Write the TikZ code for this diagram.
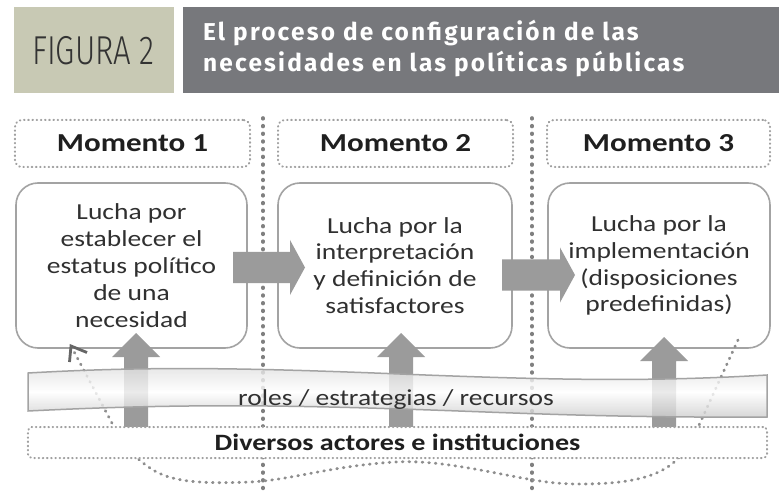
\documentclass[tikz,border=0pt]{standalone}
\usepackage{fontspec}
\setmainfont{Carlito}[FakeStretch=1.2]
\newfontfamily\titlefont{Fira Sans}[LetterSpace=9]
\newfontfamily\figfont{Fira Sans Light}[FakeStretch=0.77]
\usetikzlibrary{arrows.meta}
\definecolor{hdrgreen}{HTML}{C8C9B4}
\definecolor{hdrgray}{HTML}{77787C}
\definecolor{boxline}{HTML}{A3A3A3}
\definecolor{arrowgray}{HTML}{9B9B9B}
\definecolor{dotgray}{HTML}{808080}
\definecolor{lightdot}{HTML}{A0A0A0}
\definecolor{loopgray}{HTML}{8E8E8E}
\definecolor{txt}{HTML}{303030}
\definecolor{figtxt}{HTML}{333333}
\definecolor{ribtop}{HTML}{E0E0E0}
\definecolor{ribbot}{HTML}{CCCCCC}
\newcommand\blkup[3]{% x, tip y, bottom y
  \fill[arrowgray] (#1-12,#3) -- (#1-12,#2+24) -- (#1-24,#2+24) -- (#1,#2) -- (#1+24,#2+24) -- (#1+12,#2+24) -- (#1+12,#3) -- cycle;}
\newcommand\blkright[4]{% x start, x head, x tip, y centre
  \fill[arrowgray] (#1,#4-15.5) -- (#2,#4-15.5) -- (#2,#4-27.5) -- (#3,#4) -- (#2,#4+27.5) -- (#2,#4+15.5) -- (#1,#4+15.5) -- cycle;}
\tikzset{
  momento/.style={draw=lightdot, line width=2bp, dash pattern=on 0.6bp off 3.6bp, line cap=round,
    rounded corners=7bp, minimum height=47bp, inner sep=0pt,
    font=\bfseries\fontsize{26}{30}\selectfont, text=black!88},
  lucha/.style={draw=boxline, line width=1.6bp, fill=white, rounded corners=22bp,
    minimum height=165bp, align=center, inner sep=0pt,
    font=\fontsize{23}{27}\selectfont, text=txt},
  sepline/.style={draw=dotgray, line width=3.6bp, dash pattern=on 0.8bp off 6.9bp, line cap=round},
  loopdot/.style={draw=loopgray, line width=2.8bp, dash pattern=on 0.8bp off 5.8bp, line cap=round},
  tipchev/.style={solid, draw=black!60, line width=2.8bp, line join=miter, line cap=butt},
  actores/.style={draw=lightdot, fill=white, line width=2bp, dash pattern=on 0.6bp off 3.6bp,
    line cap=round, rounded corners=4bp, minimum width=739bp, minimum height=31bp, inner sep=0pt,
    font=\bfseries\fontsize{23.5}{28}\selectfont, text=black!88},
}
\begin{document}
\begin{tikzpicture}[x=1bp,y=-1bp]
\useasboundingbox[fill=white] (0,0) rectangle (779,493);
% header
\fill[hdrgreen] (14,7) rectangle (174,93);
\fill[hdrgray] (183,7) rectangle (779,93);
\node[anchor=base, inner sep=0pt, text=figtxt, font=\figfont\fontsize{40.5}{42}\selectfont] (fig) at (93.5,65) {FIGURA 2};
\node[anchor=base west, inner sep=0pt, align=left, text=white,
  font=\titlefont\bfseries\fontsize{24.5}{32}\selectfont] (title) at (203,72)
  {El proceso de configuración de las\\necesidades en las políticas públicas};
% separators
\coordinate (s1t) at (263,118); \coordinate (s1b) at (263,490);
\coordinate (s2t) at (532,118); \coordinate (s2b) at (532,490);
\draw[sepline] (s1t) -- (s1b);
\draw[sepline] (s2t) -- (s2b);
% moment headers
\node[momento, minimum width=235bp] (m1) at (132.5,143.5) {Momento 1};
\node[momento, minimum width=235bp] (m2) at (395.5,143.5) {Momento 2};
\node[momento, minimum width=223bp] (m3) at (658.5,143.5) {Momento 3};
% boxes
\node[lucha, minimum width=231bp] (a) at (131.5,265.5) {Lucha por\\establecer el\\estatus político\\de una\\necesidad};
\node[lucha, minimum width=234bp] (b) at (395,265.5) {Lucha por la\\interpretación\\y definición de\\satisfactores};
\node[lucha, minimum width=222bp] (c) at (659,265.5) {Lucha por la\\implementación\\(disposiciones\\predefinidas)};
% right arrows
\blkright{233}{290}{305}{267.5}
\blkright{502}{560}{575}{275}
% feedback loop
\coordinate (l0) at (738,340);
\coordinate (l1) at (700,423);
\coordinate (l2) at (113,425);
\coordinate (l3) at (71,346);
\coordinate (c1) at (87,352.5);
\coordinate (c2) at (69.5,362);
\draw[loopdot]
  (l0) -- (l1) .. controls (684,458) and (670,478) .. (610,483)
  .. controls (565,486) and (545,482) .. (522,478)
  .. controls (470,468) and (432,460) .. (395,462)
  .. controls (330,466) and (292,480) .. (250,482)
  .. controls (200,484) and (170,482) .. (150,468)
  .. controls (132,456) and (120,440) .. (l2) -- (l3);
\draw[tipchev] (c1) -- (l3) -- (c2);
% up arrows
\blkup{136}{333}{427}
\blkup{401}{333}{427}
\blkup{664}{337}{427}
% ribbon
\path[draw=boxline, line width=1.5bp, fill opacity=0.8, top color=ribtop, bottom color=ribbot, middle color=white]
  (28,373) .. controls (150,366) and (250,368) .. (400,374)
  .. controls (550,380) and (650,382) .. (767,375) -- (767,417)
  .. controls (600,418) and (500,412) .. (400,409)
  .. controls (250,404) and (150,405) .. (28,411) -- cycle;
\node[inner sep=0pt, font=\fontsize{23}{27}\selectfont, text=txt] (rib) at (396,400) {roles / estrategias / recursos};
% actors
\node[actores] (d) at (397.5,442.5) {Diversos actores e instituciones};
\end{tikzpicture}
\end{document}
